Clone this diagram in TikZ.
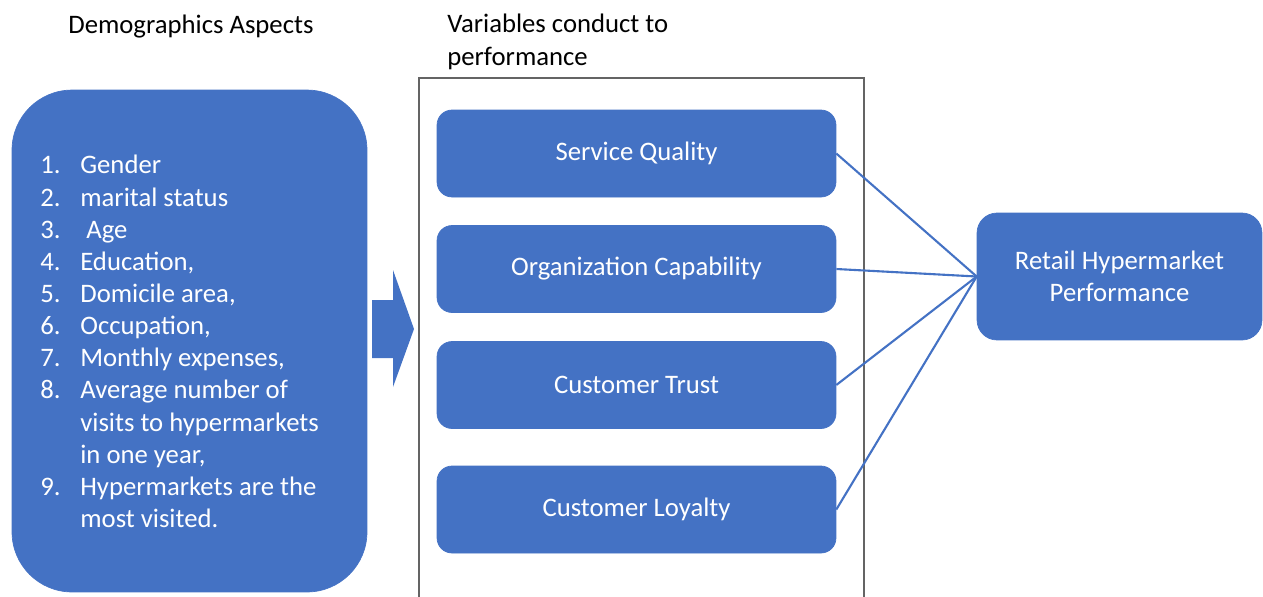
\documentclass[tikz,border=0pt]{standalone}
\usepackage{fontspec}
\setmainfont{Carlito}
\usetikzlibrary{positioning}
\definecolor{officeblue}{RGB}{68,114,196}
\definecolor{framegray}{RGB}{100,100,100}
\newcommand{\itm}[1]{\makebox[0.8cm][l]{#1}}

\begin{document}
\begin{tikzpicture}[x=0.02cm,y=-0.02cm,
    txt/.style={font=\fontsize{15.2}{18.3}\selectfont},
    bluebox/.style={txt, fill=officeblue, draw=officeblue, text=white,
        rounded corners=0.3cm, minimum width=7.98cm, minimum height=1.74cm},
    link/.style={draw=officeblue, line width=1.2pt}]
\useasboundingbox (0,0) rectangle (1263,596);
% titles
\node[txt, anchor=base west, inner sep=0] (demotitle) at (68,33) {Demographics Aspects};
\node[txt, anchor=north west, align=left, inner sep=0] (vartitle) at (447,14)
    {Variables conduct to\\performance};
% demographics
\node[bluebox, minimum width=7.1cm, minimum height=10.04cm, rounded corners=1.2cm] (demo) at (189.5,341) {};
\node[txt, anchor=north west, align=left, inner sep=0, text=white] (list) at (40,155)
    {\itm{1.}Gender\\
     \itm{2.}marital status\\
     \itm{3.} Age\\
     \itm{4.}Education,\\
     \itm{5.}Domicile area,\\
     \itm{6.}Occupation,\\
     \itm{7.}Monthly expenses,\\
     \itm{8.}Average number of\\
     \itm{}visits to hypermarkets\\
     \itm{}in one year,\\
     \itm{9.}Hypermarkets are the\\
     \itm{}most visited.};
% block arrow
\fill[officeblue] (372,300) -- (393,300) -- (393,270) -- (414,329) -- (393,387)
    -- (393,358) -- (372,358) -- cycle;
% frame round the variables
\draw[framegray, line width=0.8pt] (419,600) -- (419,78) -- (864,78) -- (864,600);
\node[bluebox] (sq) at (636.5,153.5) {Service Quality};
\node[bluebox] (oc) at (636.5,269) {Organization Capability};
\node[bluebox] (ct) at (636.5,385) {Customer Trust};
\node[bluebox] (cl) at (636.5,509.5) {Customer Loyalty};
% performance
\node[bluebox, align=center, minimum width=5.7cm, minimum height=2.54cm, rounded corners=0.4cm] (rhp)
    at (1119.5,276.5) {Retail Hypermarket\\Performance};
\foreach \v in {sq,oc,ct,cl}
    \draw[link] (\v.east) -- (rhp.west);
\end{tikzpicture}
\end{document}
